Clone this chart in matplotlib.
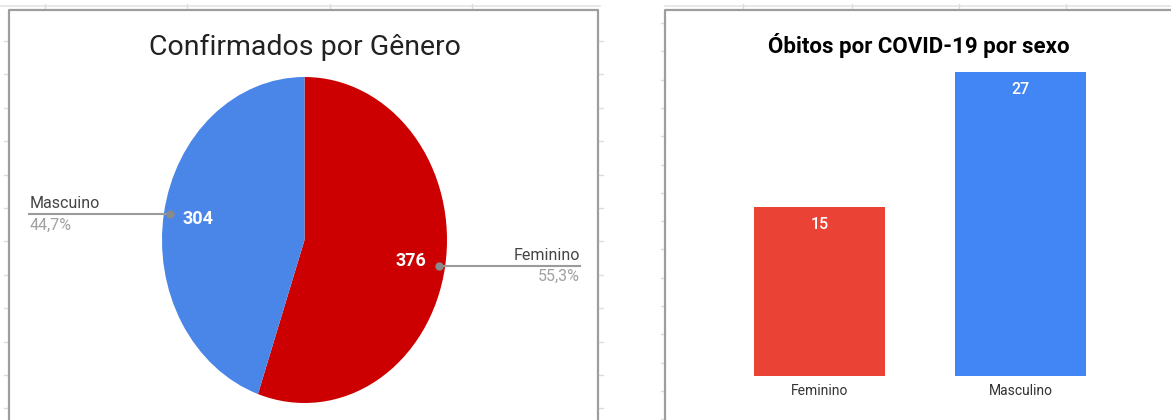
import matplotlib.pyplot as plt
import numpy as np

plt.rcParams['font.family'] = ['Roboto', 'DejaVu Sans']

# Data from the image
pie_labels = ["Feminino", "Mascuino"]
pie_values = [376, 304]
pie_colors = ["#cc0000", "#4a86e8"]

bar_labels = ["Feminino", "Masculino"]
bar_values = [15, 27]
bar_colors = ["#ea4335", "#4285f4"]

W, H = 1171, 420
fig = plt.figure(figsize=(W / 100, H / 100), dpi=100)


def px_axes(x0, y0, x1, y1, **kw):
    # axes placed by pixel box (top-left origin)
    return fig.add_axes([x0 / W, 1 - y1 / H, (x1 - x0) / W, (y1 - y0) / H], **kw)


# background: spreadsheet cells and chart frames
bg = px_axes(0, 0, W, H, zorder=0)
bg.set_xlim(0, W)
bg.set_ylim(H, 0)
bg.axis('off')
bg.plot([0, 600], [6, 6], color='#e4e4e4', lw=1.2)
bg.plot([665, W], [6, 6], color='#e4e4e4', lw=1.2)
for x in [45, 187, 330, 472]:
    bg.plot([x, x], [4, 9], color='#dddddd', lw=1)
for x in [743, 852, 959, 1066]:
    bg.plot([x, x], [4, 9], color='#dddddd', lw=1)
for y in np.arange(41, H, 33.4):
    bg.plot([4, 8], [y, y], color='#dddddd', lw=1)
    bg.plot([599, 603], [y, y], color='#dddddd', lw=1)
for y in np.arange(23, H, 28.3):
    bg.plot([661, 665], [y, y], color='#dddddd', lw=1)
bg.plot([9, 9, 598, 598], [H, 10, 10, H], color='#9e9e9e', lw=1.6)
bg.plot([665, 665, W], [H, 10, 10], color='#9e9e9e', lw=1.6)

# pie chart (stretched ellipse like the screenshot)
fig.text(305 / W, 1 - 47 / H, "Confirmados por Gênero", ha='center', va='center',
         fontsize=20.5, color='#222222')
axp = px_axes(162, 77, 447, 403)
wedges, texts, autotexts = axp.pie(
    pie_values, colors=pie_colors, startangle=90, counterclock=False,
    autopct=lambda p: f"{p * sum(pie_values) / 100:.0f}", pctdistance=0.76,
    textprops=dict(color='white', fontsize=13, fontweight='bold'))
axp.set_aspect('auto')
axp.set_xlim(-1, 1)
axp.set_ylim(-1, 1)
axp.axis('off')

total = sum(pie_values)
for w, lab, val in zip(wedges, pie_labels, pie_values):
    mid = np.deg2rad((w.theta1 + w.theta2) / 2)
    dx, dy = 0.96 * np.cos(mid), 0.96 * np.sin(mid)
    side = 1 if dx > 0 else -1
    xend = 1.93 * side
    axp.plot([dx, xend], [dy, dy], color='#9a9a9a', lw=1.5, clip_on=False)
    axp.plot(dx, dy, 'o', color='#8a8a8a', ms=5, clip_on=False)
    ha = 'right' if side > 0 else 'left'
    axp.text(xend, dy + 0.02, lab, ha=ha, va='bottom', fontsize=11.5,
             color='#444444')
    axp.text(xend, dy - 0.02, f"{val / total * 100:.1f}%".replace('.', ','),
             ha=ha, va='top', fontsize=11.5, color='#a0a0a0')

# bar chart
fig.text(919 / W, 1 - 45 / H, "Óbitos por COVID-19 por sexo", ha='center',
         va='center', fontsize=16, fontweight='bold', color='#000000')
axb = px_axes(719, 72, 1121, 376)
x = np.arange(len(bar_labels))
bars = axb.bar(x, bar_values, width=0.652, color=bar_colors)
axb.set_xlim(-0.5, 1.5)
axb.set_ylim(0, max(bar_values))
for b, v in zip(bars, bar_values):
    axb.annotate(str(v), (b.get_x() + b.get_width() / 2, v), xytext=(0, -7),
                 textcoords='offset points', ha='center', va='top',
                 color='white', fontsize=11.5, fontweight='medium')
axb.set_xticks(x)
axb.set_xticklabels(bar_labels, fontsize=10, color='#333333')
axb.tick_params(axis='x', length=0, pad=6)
axb.set_yticks([])
for s in axb.spines.values():
    s.set_visible(False)

plt.savefig('out.png', dpi=100)
